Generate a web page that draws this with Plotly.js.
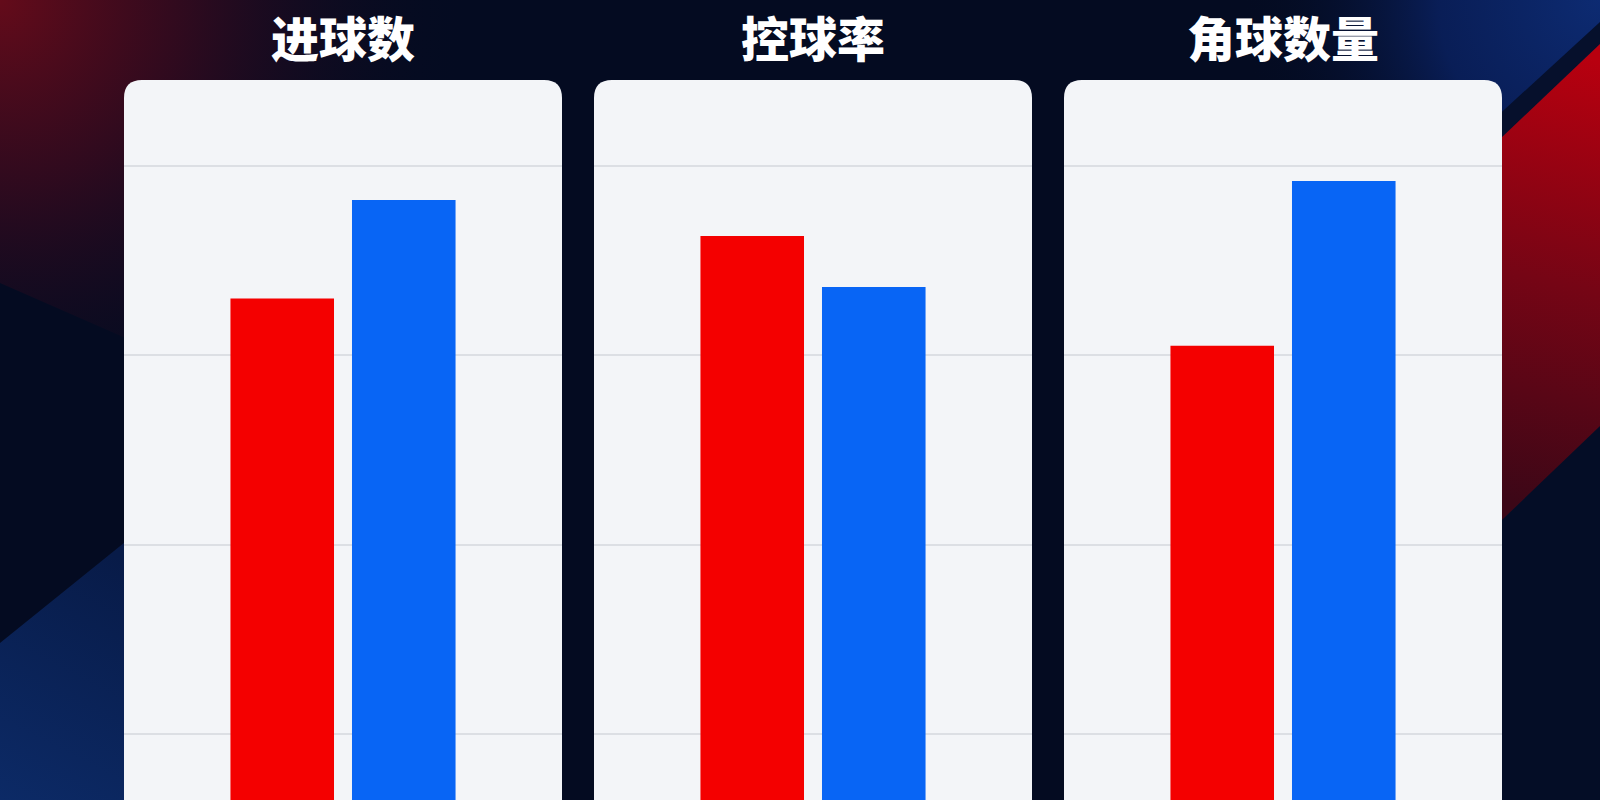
<!DOCTYPE html>
<html>
<head>
<meta charset="utf-8">
<script src="https://cdn.plot.ly/plotly-3.0.1.min.js"></script>
<style>
  html, body { margin: 0; padding: 0; width: 1600px; height: 800px; overflow: hidden; background: #040b21; }
  #bg { position: absolute; left: 0; top: 0; width: 1600px; height: 800px; }
  #chart { position: absolute; left: 0; top: 0; width: 1600px; height: 800px; }
</style>
</head>
<body>
<svg id="bg" width="1600" height="800" xmlns="http://www.w3.org/2000/svg">
  <defs>
    <radialGradient id="tlGlow" gradientUnits="userSpaceOnUse" cx="0" cy="0" r="470">
      <stop offset="0" stop-color="#640b1a" stop-opacity="1"/>
      <stop offset="0.4" stop-color="#330a1e" stop-opacity="0.9"/>
      <stop offset="1" stop-color="#040b21" stop-opacity="0"/>
    </radialGradient>
    <radialGradient id="trGlow" gradientUnits="userSpaceOnUse" cx="1600" cy="0" r="360">
      <stop offset="0" stop-color="#0d2b72" stop-opacity="1"/>
      <stop offset="0.45" stop-color="#0a2160" stop-opacity="0.85"/>
      <stop offset="1" stop-color="#040b21" stop-opacity="0"/>
    </radialGradient>
    <linearGradient id="blGrad" gradientUnits="userSpaceOnUse" x1="0" y1="800" x2="124" y2="560">
      <stop offset="0" stop-color="#0c2a66"/>
      <stop offset="1" stop-color="#081b48"/>
    </linearGradient>
    <linearGradient id="redBand" gradientUnits="userSpaceOnUse" x1="1600" y1="60" x2="1500" y2="500">
      <stop offset="0" stop-color="#b8000f"/>
      <stop offset="0.5" stop-color="#760515"/>
      <stop offset="1" stop-color="#3c0717"/>
    </linearGradient>
  </defs>
  <rect x="0" y="0" width="1600" height="800" fill="#040b21"/>
  <polygon points="0,0 700,0 700,590 0,283" fill="url(#tlGlow)"/>
  <rect x="1100" y="0" width="500" height="400" fill="url(#trGlow)"/>
  <polygon points="0,643 140,530 140,800 0,800" fill="url(#blGrad)"/>
  <polygon points="1480,132 1600,22 1600,44 1480,158" fill="#06102c"/>
  <polygon points="1480,158 1600,44 1600,800 1480,800" fill="#040d26"/>
  <polygon points="1480,158 1600,44 1600,426 1480,541" fill="url(#redBand)"/>
</svg>
<div id="chart"></div>
<script>
// ---- data ----
const metrics = ['进球数', '控球率', '角球数量'];
const teams = ['红队', '蓝队'];
const redValues = [3.30, 3.63, 3.05];
const blueValues = [3.82, 3.36, 3.92];
const yTicks = [1, 2, 3, 4];

// ---- style ----
const RED = '#f40000';
const BLUE = '#0865f5';
const PANEL = '#f3f5f8';
const GRID = '#dcdfe4';

const W = 1600, H = 800;
const panelsPx = [[124, 562], [594, 1032], [1064, 1502]];
const panelTopPx = 80;
const radiusPx = 18;

const traces = [];
const layout = {
  width: W, height: H,
  margin: {l: 0, r: 0, t: 0, b: 0, pad: 0},
  paper_bgcolor: 'rgba(0,0,0,0)',
  plot_bgcolor: 'rgba(0,0,0,0)',
  barmode: 'group',
  bargap: 0.445,
  bargroupgap: 0.148,
  showlegend: false,
  shapes: [],
  annotations: []
};

const yTop = 1 - panelTopPx / H;

metrics.forEach((m, i) => {
  const sfx = i === 0 ? '' : String(i + 1);
  const xa = 'x' + sfx, ya = 'y' + sfx;
  traces.push({
    type: 'bar', x: [m], y: [redValues[i]], name: teams[0],
    xaxis: xa, yaxis: ya, marker: {color: RED, line: {width: 0}},
    hoverinfo: 'x+y+name'
  });
  traces.push({
    type: 'bar', x: [m], y: [blueValues[i]], name: teams[1],
    xaxis: xa, yaxis: ya, marker: {color: BLUE, line: {width: 0}},
    hoverinfo: 'x+y+name'
  });
  const [px0, px1] = panelsPx[i];
  const d0 = px0 / W, d1 = px1 / W;
  layout['xaxis' + sfx] = {
    domain: [d0, d1], type: 'category', range: [-0.5, 0.5],
    showgrid: false, showticklabels: false, zeroline: false, showline: false,
    ticks: '', fixedrange: true, anchor: ya
  };
  layout['yaxis' + sfx] = {
    domain: [0, yTop], range: [0.651, 4.454],
    tickvals: yTicks, showticklabels: false, ticks: '',
    showgrid: true, gridcolor: GRID, gridwidth: 2,
    zeroline: false, showline: false, fixedrange: true, anchor: xa
  };
  // rounded panel background
  const rx = radiusPx / W, ry = radiusPx / H;
  const path = `M ${d0},-0.05 L ${d0},${yTop - ry} Q ${d0},${yTop} ${d0 + rx},${yTop} ` +
               `L ${d1 - rx},${yTop} Q ${d1},${yTop} ${d1},${yTop - ry} L ${d1},-0.05 Z`;
  layout.shapes.push({
    type: 'path', path: path, xref: 'paper', yref: 'paper',
    fillcolor: PANEL, line: {width: 0}, layer: 'below'
  });
  layout.annotations.push({
    text: m, xref: 'paper', yref: 'paper',
    x: (d0 + d1) / 2, y: 1 - 35.5 / H, xanchor: 'center', yanchor: 'middle',
    showarrow: false,
    font: {family: '"Noto Sans CJK SC", "Noto Sans", sans-serif', size: 48, weight: 900, color: '#ffffff'}
  });
});

Plotly.newPlot('chart', traces, layout, {displayModeBar: false, staticPlot: true});
</script>
</body>
</html>
